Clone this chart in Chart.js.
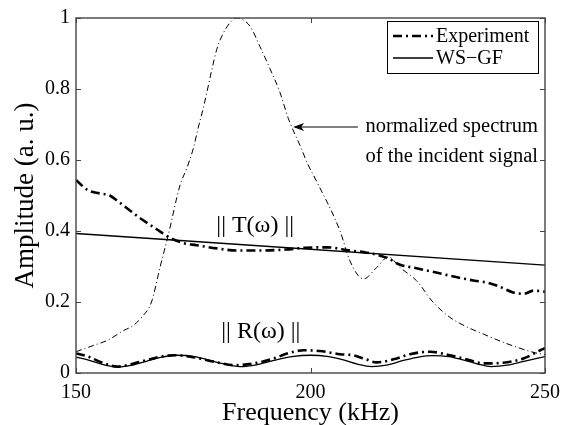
<!DOCTYPE html>
<html>
<head>
<meta charset="utf-8">
<script src="https://cdn.jsdelivr.net/npm/chart.js@4.4.1/dist/chart.umd.min.js"></script>
<style>
  html, body { margin: 0; padding: 0; background: #fff; }
  #chart { display: block; }
</style>
</head>
<body>
<canvas id="chart" width="575" height="425"></canvas>
<script>
// normalized spectrum of the incident signal
const spectrumFreq = [150, 153.8, 156.7, 160.2, 162, 164, 166.1, 167.9, 169.7, 172.2, 173.6, 175, 176.1, 177.1, 177.9, 178.9, 180, 181.1, 182.8, 184.2,
  187.1, 189.2, 191.4, 193.5, 195.3, 197.8, 199.5, 201.3, 206.3, 208.4, 211.3, 214.1, 216.6, 219.1, 222.6, 226.1, 229.7, 233.3, 236.8, 241.8, 247.9, 250];
const spectrumAmp = [0.06, 0.078, 0.092, 0.12, 0.132, 0.157, 0.2, 0.297, 0.39, 0.53, 0.576, 0.632, 0.693, 0.744, 0.79, 0.851, 0.911, 0.949, 0.986, 1.0,
  0.977, 0.92, 0.856, 0.79, 0.716, 0.64, 0.586, 0.54, 0.4, 0.316, 0.265, 0.297, 0.327, 0.297, 0.26, 0.2, 0.157, 0.13, 0.11, 0.083, 0.057, 0.052];

// ||T|| experiment
const tExpFreq = [150, 152.5, 155, 157.2, 159, 161.5, 163.6, 167.2, 170, 172.9, 175.7, 180, 184.3, 189, 194.9, 199, 203.4, 208.4, 212, 216.2,
  219.1, 222.6, 226.1, 231.5, 235, 237.5, 240, 243.2, 245.5, 247.5, 250];
const tExpAmp = [0.544, 0.515, 0.506, 0.5, 0.483, 0.458, 0.437, 0.405, 0.381, 0.366, 0.36, 0.351, 0.345, 0.345, 0.348, 0.353, 0.354, 0.345, 0.339, 0.325,
  0.305, 0.295, 0.285, 0.269, 0.26, 0.255, 0.245, 0.227, 0.223, 0.232, 0.229];

// ||T|| WS-GF
const tSimFreq = [150, 250];
const tSimAmp = [0.393, 0.304];

// ||R|| experiment
const rExpFreq = [150, 152.4, 156, 158.8, 163.8, 168, 170.9, 174.4, 179.4, 183.7, 187.9, 192.2, 195, 198.6, 202, 206.3, 209, 211.5, 214.1, 218.4,
  221.2, 225.5, 229.7, 234, 236.8, 241.1, 245.4, 249, 250];
const rExpAmp = [0.055, 0.047, 0.027, 0.018, 0.032, 0.046, 0.05, 0.046, 0.032, 0.022, 0.027, 0.041, 0.055, 0.064, 0.062, 0.053, 0.05, 0.04, 0.03, 0.041,
  0.053, 0.06, 0.05, 0.036, 0.027, 0.029, 0.041, 0.064, 0.07];

// ||R|| WS-GF
const rSimFreq = [150, 153, 156, 159, 162, 165, 168, 171.5, 175, 178, 181, 185, 188.5, 192, 196, 200, 203.5, 207, 210, 213, 216.5,
  220, 223, 226, 229.5, 232.5, 235.5, 238.5, 242, 245.5, 250];
const rSimAmp = [0.045, 0.035, 0.023, 0.017, 0.022, 0.033, 0.044, 0.05, 0.047, 0.038, 0.027, 0.018, 0.023, 0.035, 0.046, 0.05, 0.047, 0.037, 0.025, 0.018, 0.023,
  0.036, 0.045, 0.049, 0.046, 0.037, 0.026, 0.018, 0.022, 0.033, 0.046];

const xTicks = [150, 200, 250];
const yTicks = [0, 0.2, 0.4, 0.6, 0.8, 1];

const serif = "'Liberation Serif', 'DejaVu Serif', serif";
const expDash = [9, 4, 2, 4];

const toPoints = (xs, ys) => xs.map((x, i) => ({ x: x, y: ys[i] }));

// frame, inward ticks, legend box and text notes
const decorations = {
  id: "decorations",
  afterDraw(chart) {
    const ctx = chart.ctx;
    const area = chart.chartArea;
    const xs = chart.scales.x;
    const ys = chart.scales.y;
    ctx.save();

    ctx.strokeStyle = "#444";
    ctx.lineWidth = 1.4;
    ctx.strokeRect(area.left, area.top, area.right - area.left, area.bottom - area.top);

    ctx.lineWidth = 1;
    ctx.beginPath();
    xTicks.forEach((t) => {
      const px = Math.round(xs.getPixelForValue(t)) + 0.5;
      ctx.moveTo(px, area.bottom); ctx.lineTo(px, area.bottom - 5);
      ctx.moveTo(px, area.top); ctx.lineTo(px, area.top + 5);
    });
    yTicks.forEach((t) => {
      const py = Math.round(ys.getPixelForValue(t)) + 0.5;
      ctx.moveTo(area.left, py); ctx.lineTo(area.left + 5, py);
      ctx.moveTo(area.right, py); ctx.lineTo(area.right - 5, py);
    });
    ctx.stroke();

    // legend
    const bx = 387, by = 21, bw = 151, bh = 52;
    ctx.fillStyle = "#fff";
    ctx.fillRect(bx, by, bw, bh);
    ctx.strokeStyle = "#000";
    ctx.lineWidth = 1;
    ctx.strokeRect(bx + 0.5, by + 0.5, bw, bh);
    const entries = chart.data.datasets.filter((d) => d.showInLegend);
    entries.forEach((d, i) => {
      const cy = by + 15 + i * 22;
      ctx.strokeStyle = "#000";
      ctx.lineWidth = d.borderWidth;
      ctx.setLineDash(d.borderDash || []);
      ctx.beginPath();
      ctx.moveTo(bx + 6, cy); ctx.lineTo(bx + 46, cy);
      ctx.stroke();
      ctx.setLineDash([]);
      ctx.fillStyle = "#000";
      ctx.font = "20px " + serif;
      ctx.textBaseline = "middle";
      ctx.textAlign = "left";
      ctx.fillText(d.label, bx + 49, cy + 1);
    });

    // arrow note
    const tipX = xs.getPixelForValue(196.3), tipY = ys.getPixelForValue(0.693);
    const tailX = xs.getPixelForValue(210.1);
    ctx.strokeStyle = "#000";
    ctx.lineWidth = 1.2;
    ctx.beginPath();
    ctx.moveTo(tailX, tipY); ctx.lineTo(tipX + 2, tipY);
    ctx.stroke();
    ctx.fillStyle = "#000";
    ctx.beginPath();
    ctx.moveTo(tipX, tipY);
    ctx.lineTo(tipX + 11, tipY - 4);
    ctx.lineTo(tipX + 8, tipY);
    ctx.lineTo(tipX + 11, tipY + 4);
    ctx.closePath();
    ctx.fill();

    ctx.font = "20.5px " + serif;
    ctx.textAlign = "right";
    ctx.textBaseline = "middle";
    ctx.fillText("normalized spectrum", area.right - 7, tipY);
    ctx.fillText("of the incident signal", area.right - 7, tipY + 30);

    ctx.font = "24px " + serif;
    ctx.textAlign = "center";
    ctx.fillText("|| T(\u03c9) ||", xs.getPixelForValue(188.2), ys.getPixelForValue(0.416));
    ctx.fillText("|| R(\u03c9) ||", xs.getPixelForValue(189.4), ys.getPixelForValue(0.117));
    ctx.restore();
  }
};

new Chart(document.getElementById("chart"), {
  type: "line",
  data: {
    datasets: [
      {
        label: "Experiment",
        showInLegend: true,
        data: toPoints(tExpFreq, tExpAmp),
        borderColor: "#000",
        borderWidth: 2.6,
        borderDash: expDash,
      },
      {
        label: "WS\u2212GF",
        showInLegend: true,
        data: toPoints(tSimFreq, tSimAmp),
        borderColor: "#000",
        borderWidth: 1.3,
      },
      {
        label: "R experiment",
        data: toPoints(rExpFreq, rExpAmp),
        borderColor: "#000",
        borderWidth: 2.6,
        borderDash: expDash,
      },
      {
        label: "R WS-GF",
        data: toPoints(rSimFreq, rSimAmp),
        borderColor: "#000",
        borderWidth: 1.3,
      },
      {
        label: "Incident spectrum",
        data: toPoints(spectrumFreq, spectrumAmp),
        borderColor: "#000",
        borderWidth: 1,
        borderDash: [6, 3, 1, 3],
      },
    ],
  },
  options: {
    responsive: false,
    animation: false,
    events: [],
    layout: { padding: { top: 15, right: 30, left: 0, bottom: 0 } },
    elements: {
      point: { radius: 0 },
      line: { cubicInterpolationMode: "monotone", fill: false },
    },
    scales: {
      x: {
        type: "linear",
        min: 150,
        max: 250,
        afterFit: (scale) => { scale.height = 52; },
        afterBuildTicks: (scale) => { scale.ticks = xTicks.map((v) => ({ value: v })); },
        grid: { display: false, drawTicks: false },
        border: { display: false },
        ticks: { font: { family: serif, size: 20 }, color: "#000", padding: 8, maxRotation: 0 },
        title: {
          display: true,
          text: "Frequency (kHz)",
          font: { family: serif, size: 26, lineHeight: 0.9 },
          color: "#000",
          padding: { top: 0, bottom: 0 },
        },
      },
      y: {
        min: 0,
        max: 1,
        afterFit: (scale) => { scale.width = 76; },
        afterBuildTicks: (scale) => { scale.ticks = yTicks.map((v) => ({ value: v })); },
        grid: { display: false, drawTicks: false },
        border: { display: false },
        ticks: {
          font: { family: serif, size: 20 },
          color: "#000",
          padding: 6,
          callback: (v) => String(Math.round(v * 10) / 10),
        },
        title: {
          display: true,
          text: "Amplitude (a. u.)",
          font: { family: serif, size: 27, lineHeight: 1 },
          color: "#000",
          padding: { top: 12, bottom: 0 },
        },
      },
    },
    plugins: {
      legend: { display: false },
      tooltip: { enabled: false },
    },
  },
  plugins: [decorations],
});
</script>
</body>
</html>
